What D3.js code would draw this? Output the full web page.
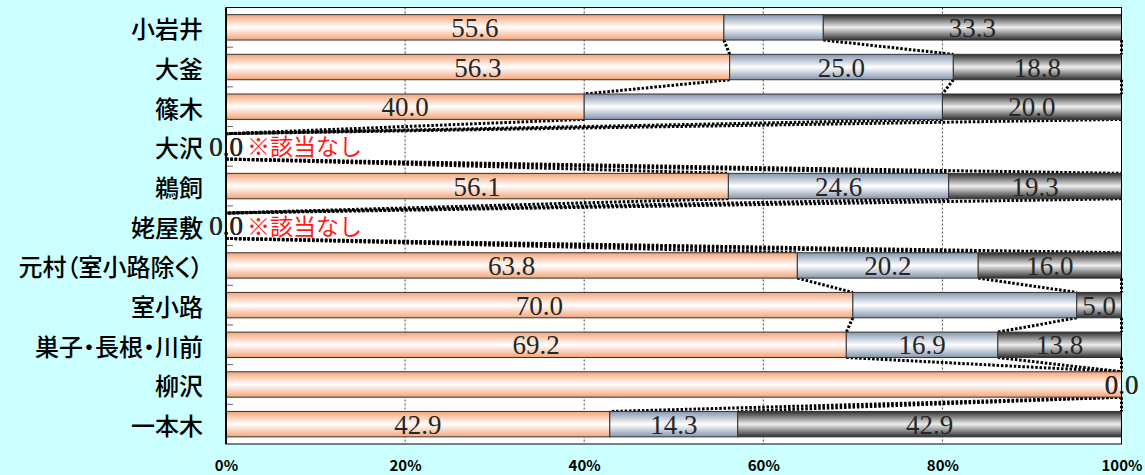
<!DOCTYPE html>
<html><head><meta charset="utf-8">
<script src="https://cdn.jsdelivr.net/npm/d3@7"></script>
<style>
html,body{margin:0;padding:0;background:#ccffff;}
svg{display:block;}
</style></head>
<body>
<svg id="chart" width="1145" height="475"></svg>
<script>
// ---- data ----
const categories = ["小岩井","大釜","篠木","大沢","鵜飼","姥屋敷","元村（室小路除く）","室小路","巣子・長根・川前","柳沢","一本木"];
const series1 = [55.6,56.3,40.0,0,56.1,0,63.8,70.0,69.2,100.0,42.9];
const series2 = [11.1,25.0,40.0,0,24.6,0,20.2,25.0,16.9,0,14.3];
const series3 = [33.3,18.8,20.0,0,19.3,0,16.0,5.0,13.8,0,42.9];
const hiddenLabels = [["小岩井",1],["篠木",1],["室小路",1],["柳沢",0]];
const notes = [["大沢","※該当なし"],["姥屋敷","※該当なし"]];
const xTicks = [0,0.2,0.4,0.6,0.8,1.0];

// ---- layout ----
const svg = d3.select("#chart");
const L = 226, R = 1121.5, T = 7.5, B = 444;
const x = d3.scaleLinear().domain([0,1]).range([L,R]);
const y = d3.scaleBand().domain(categories).range([T,B]).paddingInner(0.36).paddingOuter(0.18);
const bw = y.bandwidth();
const seriesAll = [series1,series2,series3];
const colors = [
  {id:"gO", edge:"#f4a477", mid:"#ffffff"},
  {id:"gB", edge:"#8595ae", mid:"#ffffff"},
  {id:"gK", edge:"#2e2e2e", mid:"#eeeeee"}
];
const defs = svg.append("defs");
colors.forEach(c=>{
  const g = defs.append("linearGradient").attr("id",c.id).attr("x1",0).attr("y1",0).attr("x2",0).attr("y2",1);
  g.append("stop").attr("offset","0%").attr("stop-color",c.edge);
  g.append("stop").attr("offset","50%").attr("stop-color",c.mid);
  g.append("stop").attr("offset","100%").attr("stop-color",c.edge);
});

// normalized stacks
const rows = categories.map((c,i)=>{
  const vals = seriesAll.map(s=>s[i]);
  const tot = d3.sum(vals);
  let acc = 0;
  const segs = vals.map((v,k)=>{
    const f = tot>0 ? v/tot : 0;
    const s = {cat:c, k, v, x0:acc, x1:acc+f};
    acc += f; return s;
  });
  return {cat:c, segs};
});

// plot background
svg.append("rect").attr("x",L).attr("y",T).attr("width",R-L).attr("height",B-T).attr("fill","#fff");

// gridlines
svg.append("g").selectAll("line").data(xTicks.filter(t=>t>0&&t<1)).join("line")
  .attr("x1",d=>x(d)).attr("x2",d=>x(d)).attr("y1",T).attr("y2",B)
  .attr("stroke","#444").attr("stroke-width",1).attr("stroke-dasharray","2,2");

// left ticks at category boundaries
svg.append("g").selectAll("line").data(categories.slice(1)).join("line")
  .attr("x1",L).attr("x2",L+7)
  .attr("y1",d=>y(d)-y.step()*0.18).attr("y2",d=>y(d)-y.step()*0.18)
  .attr("stroke","#666").attr("stroke-width",1);

// series lines
const sl = [];
for(let i=0;i<rows.length-1;i++){
  for(let k=0;k<3;k++){
    sl.push({xa:rows[i].segs[k].x1, ya:y(rows[i].cat)+bw, xb:rows[i+1].segs[k].x1, yb:y(rows[i+1].cat)});
  }
}
svg.append("g").selectAll("line").data(sl).join("line")
  .attr("x1",d=>x(d.xa)).attr("y1",d=>d.ya).attr("x2",d=>x(d.xb)).attr("y2",d=>d.yb)
  .attr("stroke","#000").attr("stroke-width",3).attr("stroke-dasharray","2.5,1.8");

// bars
const segAll = rows.flatMap(r=>r.segs);
svg.append("g").selectAll("rect").data(segAll.filter(s=>s.x1>s.x0)).join("rect")
  .attr("x",d=>x(d.x0)).attr("y",d=>y(d.cat)).attr("width",d=>x(d.x1)-x(d.x0)).attr("height",bw)
  .attr("fill",d=>`url(#${colors[d.k].id})`).attr("stroke","#333").attr("stroke-width",1);

// data labels
const isHidden = s=>hiddenLabels.some(h=>h[0]===s.cat&&h[1]===s.k);
svg.append("g").selectAll("text").data(segAll.filter(s=>!isHidden(s))).join("text")
  .attr("x",d=>x((d.x0+d.x1)/2)).attr("y",d=>y(d.cat)+bw/2+9.5)
  .attr("text-anchor","middle").attr("font-family","'Liberation Serif','DejaVu Serif',serif")
  .attr("font-size",27).attr("fill","#262626")
  .text(d=>d3.format(".1f")(d.v));

// notes
svg.append("g").selectAll("text").data(notes).join("text")
  .attr("x",x(0)+21).attr("y",d=>y(d[0])+bw/2+9)
  .attr("font-family","'Noto Sans CJK JP',sans-serif").attr("font-size",23).attr("fill","#ff1a1a")
  .text(d=>d[1]);

// border
svg.append("rect").attr("x",L).attr("y",T).attr("width",R-L).attr("height",B-T)
  .attr("fill","none").attr("stroke","#000").attr("stroke-width",1);
svg.append("line").attr("x1",L).attr("x2",L).attr("y1",T).attr("y2",B).attr("stroke","#000").attr("stroke-width",2);

// y axis labels
const ya = svg.append("g").attr("transform",`translate(${L},0)`)
  .call(d3.axisLeft(y).tickSize(0).tickPadding(23));
ya.select(".domain").remove();
ya.selectAll("text").attr("font-family","'Noto Sans CJK JP',sans-serif").attr("font-size",24)
  .attr("font-weight",500).attr("fill","#000").attr("dy",null).attr("y",11)
  .style("font-feature-settings","'palt'");

// x axis labels
const xa = svg.append("g").attr("transform",`translate(0,${B})`)
  .call(d3.axisBottom(x).tickValues(xTicks).tickFormat(d3.format(".0%")).tickSize(0).tickPadding(0));
xa.select(".domain").remove();
xa.selectAll("text").attr("font-family","'Noto Sans CJK JP',sans-serif").attr("font-size",15)
  .attr("font-weight","bold").attr("fill","#000").attr("dy",null).attr("y",27);
</script>
</body></html>
